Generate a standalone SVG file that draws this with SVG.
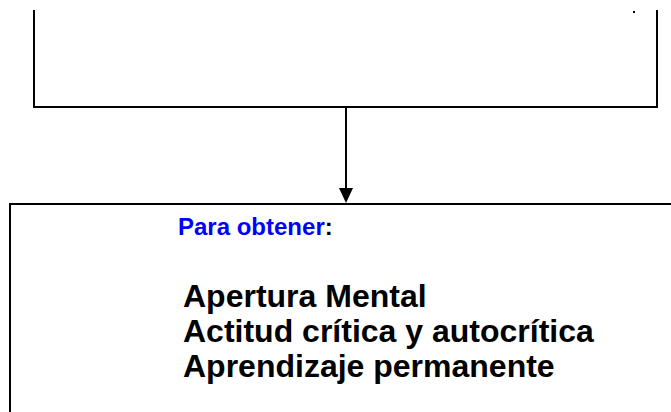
<svg xmlns="http://www.w3.org/2000/svg" width="671" height="412" viewBox="0 0 671 412">
<style>
.ln{fill:none;stroke:#000;stroke-width:2}
.t{font-family:"Liberation Sans",Arial,sans-serif;font-weight:bold;fill:#000}
</style>
<rect width="671" height="412" fill="#fff"/>
<g id="top-box">
<path class="ln" d="M34,10 V107 H657 V10"/>
<rect x="633" y="11" width="2" height="2" fill="#000"/>
</g>
<g id="connectors">
<path class="ln" d="M346,107 V190"/>
<path d="M339,188 L353,188 L346,203 Z" fill="#000"/>
</g>
<g id="bottom-box">
<path class="ln" d="M10,420 V204 H680"/>
<text class="t" x="178" y="235" font-size="24"><tspan fill="#0000ff">Para obtener</tspan>:</text>
<text class="t" x="183" y="307" font-size="32">Apertura Mental</text>
<text class="t" x="183" y="342" font-size="32">Actitud crítica y autocrítica</text>
<text class="t" x="183" y="376.5" font-size="32">Aprendizaje permanente</text>
</g>
</svg>
